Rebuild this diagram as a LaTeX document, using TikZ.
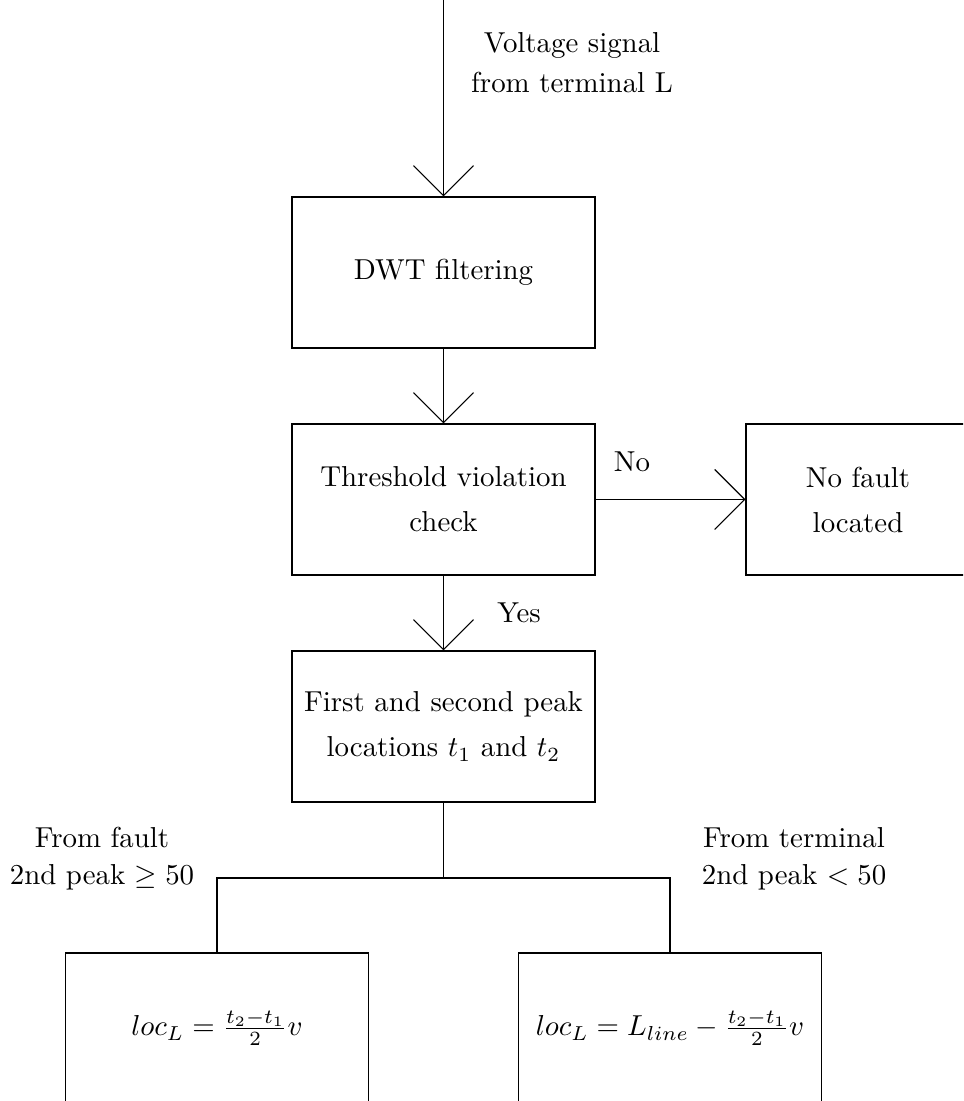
\documentclass[tikz,border=0pt]{standalone}
\usetikzlibrary{arrows.meta}
\tikzset{
  flowbox/.style={draw, minimum width=105pt, minimum height=52.3pt, inner sep=0pt,
    align=center, font=\fontsize{10}{15.6}\selectfont},
  narrowbox/.style={flowbox, minimum width=77.6pt},
  flow/.style={-{Straight Barb[length=10.4pt,width=20.8pt]}},
  note/.style={align=center, inner sep=0pt},
}
\begin{document}
\begin{tikzpicture}[x=0.3466pt,y=-0.3466pt]
\useasboundingbox (0,0) rectangle (963,1101);
\clip (0,0) rectangle (963,1101);

% process boxes
\node[flowbox] (dwt)   at (443.5,272.5) {DWT filtering};
\node[flowbox] (thr)   at (443.5,499.5) {Threshold violation\\check};
\node[narrowbox] (nof) at (858,499.5)   {No fault\\located};
\node[flowbox] (peak)  at (443.5,726.5) {First and second peak\\locations $t_1$ and $t_2$};
\node[flowbox] (locf)  at (217,1028.5)  {$loc_L = \frac{t_2-t_1}{2}v$};
\node[flowbox] (loct)  at (670,1028.5)  {$loc_L = L_{line} - \frac{t_2-t_1}{2}v$};

% input signal
\coordinate (in) at (443.5,0);
\node[note, font=\fontsize{10}{13.9}\selectfont] (inlbl) at (572,63) {Voltage signal\\from terminal L};

% connectors
\draw[flow] (in) -- (dwt.north);
\draw[flow] (dwt.south) -- (thr.north);
\draw[flow] (thr.east) -- (nof.west);
\draw[flow] (thr.south) -- (peak.north);
\node[note] (nolbl)  at (632,462) {No};
\node[note] (yeslbl) at (519,613) {Yes};

% branch to the two locating formulas
\coordinate (split) at (443.5,878);
\draw (peak.south) -- (split);
\draw (locf.north) |- (split) -| (loct.north);
\node[note, font=\fontsize{10}{12.8}\selectfont] (flbl) at (102,859) {From fault\\2nd peak $\geq 50$};
\node[note, font=\fontsize{10}{12.8}\selectfont] (tlbl) at (794,859) {From terminal\\2nd peak $< 50$};
\end{tikzpicture}
\end{document}
